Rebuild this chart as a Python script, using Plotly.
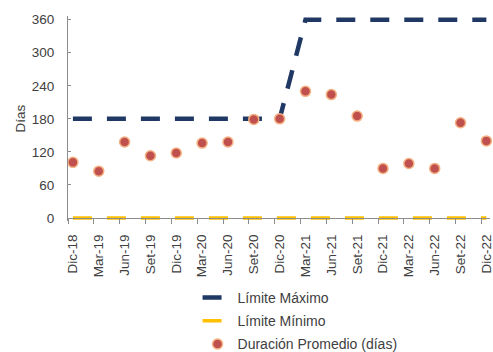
import plotly.graph_objects as go

# Quarterly periods
periods = ["Dic-18", "Mar-19", "Jun-19", "Set-19", "Dic-19", "Mar-20", "Jun-20",
           "Set-20", "Dic-20", "Mar-21", "Jun-21", "Set-21", "Dic-21", "Mar-22",
           "Jun-22", "Set-22", "Dic-22"]

# Regulatory limits (days)
limite_maximo = [180, 180, 180, 180, 180, 180, 180, 180, 180,
                 360, 360, 360, 360, 360, 360, 360, 360]
limite_minimo = [0] * 17

# Average duration (days)
duracion_promedio = [101, 85, 138, 113, 118, 136, 138, 179, 180,
                     230, 224, 185, 90, 99, 90, 173, 140]

y_ticks = [0, 60, 120, 180, 240, 300, 360]

x_idx = list(range(len(periods)))

TEXT = "#404040"
AXIS = "#8C8C8C"
FONT = "Liberation Sans, Arial, sans-serif"

fig = go.Figure()

fig.add_trace(go.Scatter(
    x=x_idx, y=limite_maximo, name="Límite Máximo", mode="lines",
    legendgroup="max",
    line=dict(color="#1F3864", width=4.5, dash="19px,15px"),
))
fig.add_trace(go.Scatter(
    x=x_idx, y=limite_minimo, name="Límite Mínimo", mode="lines",
    legendgroup="min",
    line=dict(color="#FFC000", width=3.5, dash="19px,15px"),
))
fig.add_trace(go.Scatter(
    x=x_idx, y=duracion_promedio, name="Duración Promedio (días)", mode="markers",
    legendgroup="dur",
    marker=dict(color="#C0504D", size=10, line=dict(color="#F4B183", width=1.5)),
    cliponaxis=False,
))

# Plot-area geometry (px) used to place the value axis so 0..360 spans the frame
W, H = 493, 352
top_px, bot_px = 16, 221
y0_px, y360_px = 218.0, 19.7
ppu = (y0_px - y360_px) / 360.0
y_lo = -(bot_px - y0_px) / ppu
y_hi = 360 + (y360_px - top_px) / ppu

fig.update_layout(
    width=W, height=H,
    margin=dict(l=68, r=3, t=top_px, b=H - bot_px, autoexpand=False),
    paper_bgcolor="white", plot_bgcolor="white",
    font=dict(family=FONT, size=13.5, color=TEXT),
    showlegend=True,
    legend=dict(
        x=0.307, xanchor="left",
        yref="container", y=1 - 282 / H, yanchor="top",
        font=dict(size=14, color=TEXT),
        bgcolor="rgba(0,0,0,0)",
        traceorder="grouped",
        tracegroupgap=2,
    ),
    xaxis=dict(
        range=[-0.19, 16.14],
        tickmode="array", tickvals=x_idx, ticktext=periods,
        tickangle=-90, ticks="",
        tickfont=dict(size=13.5, color=TEXT),
        ticklabeloverflow="allow",
        showline=True, linecolor=AXIS, linewidth=1,
        showgrid=False, zeroline=False,
        anchor="free", position=(bot_px - y0_px) / (bot_px - top_px),
        ticklabelstandoff=10,
        minor=dict(tickmode="array", tickvals=[i - 0.19 for i in x_idx],
                   ticks="outside", ticklen=5, tickcolor=AXIS, tickwidth=1,
                   showgrid=False),
    ),
    yaxis=dict(
        range=[y_lo, y_hi],
        tickmode="array", tickvals=y_ticks,
        ticks="inside", ticklen=3, tickcolor=AXIS,
        tickfont=dict(size=13.5, color=TEXT),
        showline=True, linecolor=AXIS, linewidth=1,
        showgrid=False, zeroline=False,
        ticklabelstandoff=10,
        title=dict(text="Días", font=dict(size=13.5, color=TEXT), standoff=3),
    ),
)

fig.write_html("out.html")
